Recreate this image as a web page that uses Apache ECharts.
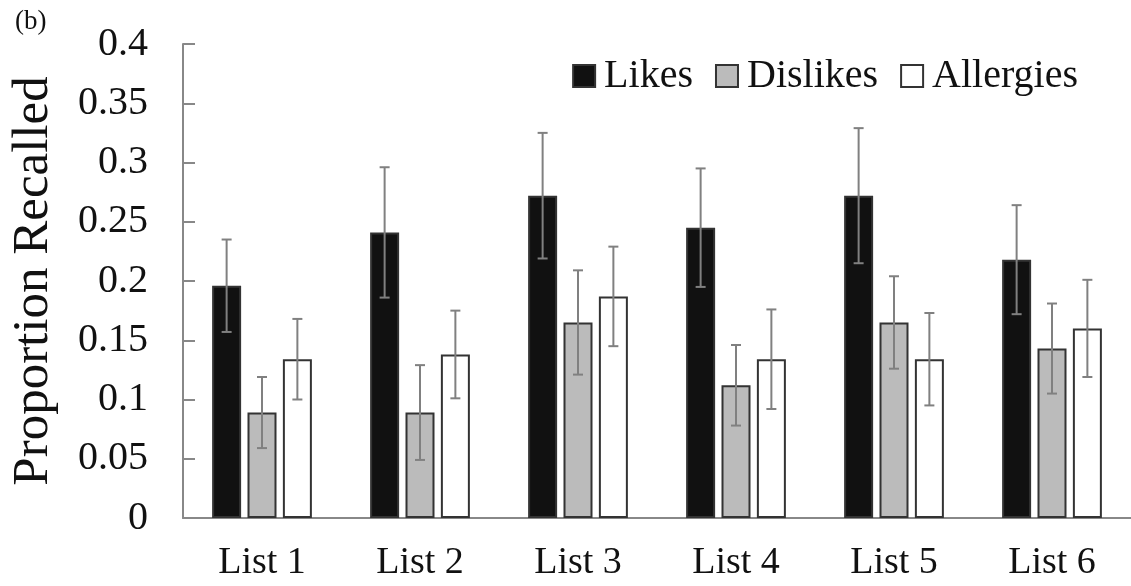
<!DOCTYPE html>
<html>
<head>
<meta charset="utf-8">
<script src="https://cdn.jsdelivr.net/npm/echarts@6/dist/echarts.min.js"></script>
<style>
  html, body { margin: 0; padding: 0; background: #fff; }
  #chart { width: 1131px; height: 586px; }
</style>
</head>
<body>
<div id="chart"></div>
<script>
// Proportion of items recalled per list, by item type (mean ± error)
const categories = ['List 1', 'List 2', 'List 3', 'List 4', 'List 5', 'List 6'];
const seriesNames = ['Likes', 'Dislikes', 'Allergies'];

const likes        = [0.196, 0.241, 0.272, 0.245, 0.272, 0.218];
const likesErr     = [0.039, 0.055, 0.053, 0.050, 0.057, 0.046];
const dislikes     = [0.089, 0.089, 0.165, 0.112, 0.165, 0.143];
const dislikesErr  = [0.030, 0.040, 0.044, 0.034, 0.039, 0.038];
const allergies    = [0.134, 0.138, 0.187, 0.134, 0.134, 0.160];
const allergiesErr = [0.034, 0.037, 0.042, 0.042, 0.039, 0.041];

const yTickLabels = ['0', '0.05', '0.1', '0.15', '0.2', '0.25', '0.3', '0.35', '0.4'];

const SERIF = "'Liberation Serif', 'Times New Roman', serif";
const BAR_WIDTH = 29;
const BAR_GAP = 0.22;
const fills = ['#111111', '#bbbbbb', '#ffffff'];
const means = [likes, dislikes, allergies];
const errs = [likesErr, dislikesErr, allergiesErr];

const chart = echarts.init(document.getElementById('chart'), null, { renderer: 'canvas' });

const barSeries = seriesNames.map((name, s) => ({
  name: name,
  type: 'bar',
  barWidth: BAR_WIDTH,
  barGap: (BAR_GAP * 100) + '%',
  data: means[s],
  itemStyle: { color: fills[s], borderColor: '#333333', borderWidth: 2 },
  z: 2
}));

// error bars drawn at each bar's offset within its category band
const errorSeries = seriesNames.map((name, s) => ({
  type: 'custom',
  name: name + ' error',
  z: 5,
  silent: true,
  data: categories.map((c, i) => [i, means[s][i] - errs[s][i], means[s][i] + errs[s][i]]),
  renderItem: function (params, api) {
    const offset = (s - 1) * BAR_WIDTH * (1 + BAR_GAP);
    const lo = api.coord([api.value(0), api.value(1)]);
    const hi = api.coord([api.value(0), api.value(2)]);
    const x = lo[0] + offset;
    const cap = 5;
    const style = { stroke: '#808080', lineWidth: 2 };
    return {
      type: 'group',
      children: [
        { type: 'line', shape: { x1: x, y1: lo[1], x2: x, y2: hi[1] }, style: style },
        { type: 'line', shape: { x1: x - cap, y1: hi[1], x2: x + cap, y2: hi[1] }, style: style },
        { type: 'line', shape: { x1: x - cap, y1: lo[1], x2: x + cap, y2: lo[1] }, style: style }
      ]
    };
  }
}));

chart.setOption({
  animation: false,
  backgroundColor: '#ffffff',
  title: {
    text: '(b)',
    left: 10,
    top: 3,
    textStyle: { fontFamily: SERIF, fontSize: 27, fontWeight: 'normal', color: '#111' }
  },
  legend: {
    data: seriesNames,
    top: 51,
    right: 48,
    icon: 'rect',
    itemWidth: 22,
    itemHeight: 22,
    itemGap: 22,
    textStyle: { fontFamily: SERIF, fontSize: 40, color: '#111', padding: [0, 0, 0, 4] }
  },
  grid: { left: 172, right: 0, top: 44, bottom: 68, containLabel: false },
  xAxis: {
    type: 'category',
    data: categories,
    axisLine: { lineStyle: { color: '#888', width: 2 } },
    axisTick: { show: false },
    axisLabel: { fontFamily: SERIF, fontSize: 38, color: '#111', margin: 26 }
  },
  yAxis: {
    type: 'value',
    min: 0,
    max: 0.4,
    interval: 0.05,
    name: 'Proportion Recalled',
    nameLocation: 'middle',
    nameGap: 124,
    nameTextStyle: { fontFamily: SERIF, fontSize: 51, color: '#111' },
    axisLine: { show: true, lineStyle: { color: '#888', width: 2 } },
    axisTick: { show: true, inside: true, length: 12, lineStyle: { color: '#888', width: 2 } },
    axisLabel: {
      fontFamily: SERIF, fontSize: 40, color: '#111', margin: 35,
      formatter: function (v, i) { return yTickLabels[i]; }
    },
    splitLine: { show: false }
  },
  series: barSeries.concat(errorSeries)
});
</script>
</body>
</html>
